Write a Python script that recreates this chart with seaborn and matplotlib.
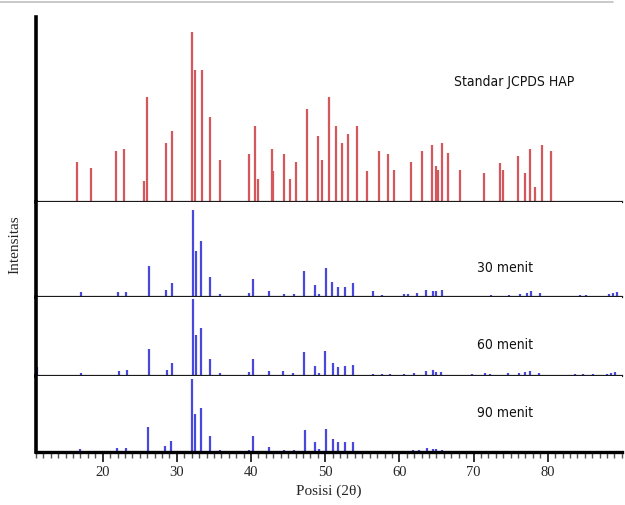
import matplotlib
matplotlib.use("Agg")
import matplotlib.pyplot as plt
from matplotlib.lines import Line2D
from matplotlib.ticker import MultipleLocator, FixedLocator
import seaborn as sns
import pandas as pd

# ---------------- data ----------------
jcpds_pos = [16.5, 18.4, 21.8, 22.9, 25.6, 26.0, 28.5, 29.3, 32.1, 32.4, 33.4, 34.4, 35.8,
             39.7, 40.5, 40.9, 42.8, 43.0, 44.5, 45.3, 46.0, 47.6, 49.0, 49.6, 50.5, 51.5,
             52.3, 53.1, 54.3, 55.6, 57.2, 58.4, 59.3, 61.6, 63.0, 64.4, 64.9, 65.2, 65.7,
             66.6, 68.2, 71.4, 73.6, 74.0, 76.0, 76.9, 77.6, 78.3, 79.2, 80.5]
jcpds_int = [23.5, 20, 30, 31, 12.5, 62, 34.5, 42, 100, 78, 78, 50, 24.5,
             28, 44.5, 13.5, 31, 18, 28, 13.5, 23.5, 54.5, 39, 24.5, 62, 44.5,
             34.5, 40, 44.5, 18, 30, 28, 19, 23.5, 30, 33.5, 21, 19, 35,
             29, 19, 17, 23, 19, 27, 17, 31, 9, 33.5, 30]

m30_pos = [17.1, 22.1, 23.2, 26.2, 28.5, 29.3, 32.2, 32.6, 33.2, 34.5, 35.8, 39.7, 40.2,
           42.4, 44.4, 45.8, 47.2, 48.6, 49.1, 50.1, 50.9, 51.7, 52.6, 53.7, 56.5, 57.7,
           60.6, 61.1, 62.4, 63.6, 64.5, 64.9, 65.8, 72.3, 74.8, 76.2, 77.2, 77.8, 78.9,
           84.3, 85.2, 88.3, 88.8, 89.3]
m30_int = [5.3, 5.3, 5.3, 35, 8.4, 16, 100, 52.7, 63.7, 23, 3, 5, 21,
           7, 3.5, 3.5, 30, 14, 3.5, 33, 17.5, 12, 12, 15.6, 7, 2,
           3.5, 3, 4.5, 8.4, 7, 7, 8.4, 2.7, 2.7, 4, 5, 6.5, 5,
           2.7, 2.7, 3.5, 4.5, 5.7]

m60_pos = [11.1, 17.1, 22.2, 23.3, 26.3, 28.6, 29.3, 32.2, 32.6, 33.3, 34.5, 35.8, 39.7,
           40.2, 42.4, 44.3, 45.7, 47.2, 48.6, 49.1, 50.0, 51.0, 51.7, 52.6, 53.7, 56.5,
           57.7, 58.8, 60.6, 62.0, 63.6, 64.5, 64.9, 65.6, 69.8, 71.6, 72.2, 74.6, 76.1,
           77.0, 77.6, 78.8, 83.7, 84.7, 86.1, 88.0, 88.6, 89.1]
m60_int = [12, 3.5, 6, 8, 35, 8, 17, 100, 53.5, 62, 22, 3.5, 5.5,
           22, 6.5, 6, 3.5, 31, 13, 3.5, 33, 17, 12, 12.6, 14, 3,
           2.6, 2, 2.6, 3.5, 6.5, 8, 5.5, 5, 2.6, 4.3, 2.6, 3.5, 3.5,
           5, 6, 4, 2, 2, 2, 2.6, 4.3, 5]

m90_pos = [16.9, 21.9, 23.1, 26.1, 28.4, 29.2, 32.1, 32.5, 33.2, 34.5, 35.8, 39.7, 40.2,
           42.4, 44.4, 45.8, 47.3, 48.6, 49.1, 50.1, 51.0, 51.7, 52.6, 53.8, 56.4, 57.7,
           60.6, 61.8, 62.7, 63.7, 64.5, 64.9, 65.8]
m90_int = [3.7, 6, 6, 34.5, 8.3, 15.7, 100, 51.6, 60, 22, 3.2, 2.3, 21.7,
           6.5, 3.2, 3.2, 30.4, 13.4, 4, 32, 17.5, 13.4, 13, 13, 2, 2,
           2, 2.3, 2.6, 5.5, 4, 4, 2.6]

labels = ["Standar JCPDS HAP", "30 menit", "60 menit", "90 menit"]
x_ticks = [20, 30, 40, 50, 60, 70, 80]

# ---------------- style ----------------
sns.set_theme(style="white")
plt.rcParams["font.family"] = ["DejaVu Sans"]

RED = "#d4575c"
BLUE = "#4848dc"

frames = [
    pd.DataFrame({"pos": jcpds_pos, "int": jcpds_int}),
    pd.DataFrame({"pos": m30_pos, "int": m30_int}),
    pd.DataFrame({"pos": m60_pos, "int": m60_int}),
    pd.DataFrame({"pos": m90_pos, "int": m90_int}),
]
colors = [RED, BLUE, BLUE, BLUE]
ytops = [108.8, 108.8, 102.6, 104.0]
label_x = [67.4, 70.5, 70.5, 70.5]
label_y = [0.65, 0.305, 0.39, 0.51]

fig = plt.figure(figsize=(6.25, 5.05), dpi=100)
gs = fig.add_gridspec(4, 1, height_ratios=[185, 95, 79, 76], hspace=0,
                      left=0.0576, right=0.995, bottom=0.105, top=0.966)

axes = []
for i in range(4):
    ax = fig.add_subplot(gs[i], sharex=axes[0] if axes else None)
    axes.append(ax)
    df = frames[i]
    ax.vlines(df["pos"], 0, df["int"], color=colors[i], linewidth=1.6)
    ax.set_ylim(0, ytops[i])
    ax.set_xlim(11, 90)
    ax.set_yticks([])
    sns.despine(ax=ax, top=True, right=True, left=False, bottom=False)
    ax.spines["left"].set_linewidth(2.6)
    ax.spines["left"].set_color("black")
    ax.spines["bottom"].set_linewidth(1.6)
    ax.spines["bottom"].set_color("#1a1a1a")
    ax.set_facecolor("white")
    ax.text(label_x[i], label_y[i], labels[i], transform=ax.get_xaxis_transform(),
            fontsize=10, fontstretch="condensed", color="#111111", va="center", ha="left")
    if i < 3:
        ax.tick_params(axis="x", which="both", bottom=False, labelbottom=False)

bax = axes[-1]
bax.spines["bottom"].set_linewidth(2.4)
bax.spines["bottom"].set_color("black")
bax.xaxis.set_major_locator(FixedLocator(x_ticks))
bax.xaxis.set_minor_locator(MultipleLocator(1))
bax.tick_params(axis="x", which="major", direction="out", length=7, width=1.4,
                color="#333333", bottom=True, labelbottom=True, pad=3)
bax.tick_params(axis="x", which="minor", direction="out", length=4, width=1.0,
                color="#555555", bottom=True)
for lab in bax.get_xticklabels():
    lab.set_fontfamily(["Liberation Serif", "DejaVu Serif"])
    lab.set_fontsize(10.5)
bax.set_xlabel("Posisi (2θ)", fontsize=11, family=["Liberation Serif", "DejaVu Serif"],
               labelpad=4)

fig.text(0.024, 0.515, "Intensitas", rotation=90, fontsize=11,
         family=["Liberation Serif", "DejaVu Serif"], ha="center", va="center")

fig.add_artist(Line2D([0.0, 0.98], [1 - 2 / 505, 1 - 2 / 505], transform=fig.transFigure,
                      color="#c0c0c0", linewidth=1.2))

fig.savefig("out.png", dpi=100)
